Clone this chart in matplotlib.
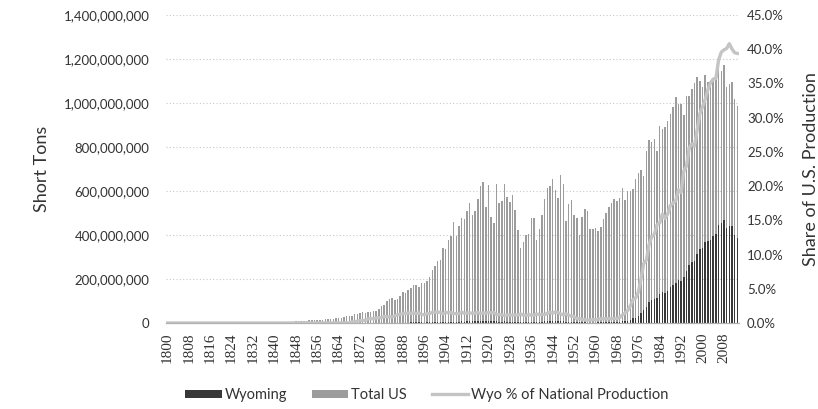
import matplotlib.pyplot as plt
import numpy as np
from matplotlib.patches import Patch
from matplotlib.lines import Line2D
from matplotlib.ticker import FuncFormatter, PercentFormatter

plt.rcParams["font.family"] = ["Lato", "DejaVu Sans"]

years = np.arange(1800, 2014)

# total US coal production, million short tons
total_us_mt = [
    0.11, 0.11, 0.12, 0.12, 0.13, 0.13, 0.14, 0.15, 0.16, 0.17,
    0.18, 0.19, 0.20, 0.21, 0.22, 0.24, 0.25, 0.27, 0.29, 0.31,
    0.33, 0.35, 0.38, 0.41, 0.44, 0.50, 0.55, 0.60, 0.70, 0.80,
    0.88, 1.0, 1.2, 1.4, 1.3, 1.7, 1.9, 2.2, 2.1, 2.4,
    2.5, 2.9, 3.2, 3.4, 4.2, 4.9, 5.7, 6.5, 6.9, 7.6,
    8.4, 9.8, 10.5, 11.8, 13.4, 14.2, 14.8, 14.5, 15.3, 17.8,
    19.1, 18.6, 19.2, 21.5, 22.7, 22.9, 27.9, 29.8, 31.5, 31.1,
    38.6, 41.1, 44.3, 49.1, 46.7, 49.7, 49.0, 54.4, 55.0, 64.3,
    76, 82, 99, 110, 114, 106, 108, 124, 142, 135,
    151, 161, 171, 174, 163, 184, 183, 191, 210, 242,
    257, 280, 288, 341, 336, 375, 396, 459, 397, 440,
    479, 474, 510, 544, 490, 508, 564, 622, 643, 529,
    628, 484, 456, 630, 546, 556, 632, 571, 550, 581,
    513, 422, 343, 366, 398, 405, 476, 475, 377, 425,
    489, 564, 615, 622, 655, 604, 567, 673, 630, 462,
    540, 557, 492, 475, 400, 480, 520, 510, 425, 428,
    430, 418, 437, 474, 502, 525, 545, 563, 555, 570,
    612, 560, 602, 598, 610, 654, 684, 697, 670, 781,
    829.7, 823.8, 838.1, 782.1, 895.9, 883.6, 890.3, 918.8, 950.3, 980.7,
    1029.1, 996.0, 997.5, 945.4, 1033.5, 1033.0, 1063.9, 1089.9, 1117.5, 1100.4,
    1073.6, 1127.7, 1094.3, 1071.8, 1112.1, 1131.5, 1162.7, 1146.6, 1171.8, 1074.9,
    1084.4, 1095.6, 1016.5, 984.8,
]

# Wyoming production, million short tons
wyoming_mt = [0.0] * 68 + [
    0.006, 0.05,
    0.05, 0.11, 0.15, 0.18, 0.18, 0.3, 0.3, 0.35, 0.4, 0.5,
    0.59, 0.78, 0.92, 1.0, 1.0, 1.1, 1.3, 1.6, 1.9, 1.9,
    2.2, 2.3, 2.5, 2.4, 2.4, 2.3, 2.2, 2.6, 2.9, 3.8,
    4.0, 4.5, 4.4, 4.6, 5.2, 5.6, 6.1, 6.3, 5.5, 6.1,
    7.5, 6.7, 7.4, 7.9, 7.0, 7.3, 8.6, 8.6, 9.4, 7.6,
    9.6, 7.2, 7.0, 7.8, 6.7, 6.6, 6.8, 6.7, 6.5, 6.7,
    6.1, 5.0, 4.5, 4.2, 4.5, 4.9, 5.5, 5.4, 5.0, 5.2,
    6.1, 6.9, 8.7, 9.7, 9.5, 9.8, 8.6, 8.9, 7.6, 6.2,
    6.1, 5.6, 4.6, 3.0, 2.5, 2.7, 2.6, 2.1, 1.9, 2.1,
    2.0, 2.4, 2.7, 3.0, 3.1, 3.3, 3.6, 3.6, 3.7, 4.6,
    7.2, 8.0, 10.9, 14.9, 20.7, 23.8, 30.8, 44.5, 58.3, 71.8,
    94.9, 103.6, 108.9, 112.3, 131.0, 140.7, 136.0, 146.4, 163.6, 171.7,
    184.0, 193.9, 190.2, 209.9, 236.9, 263.8, 278.4, 281.9, 315.0, 336.5,
    338.9, 368.7, 373.2, 376.3, 396.5, 404.3, 446.7, 453.6, 467.6, 431.1,
    442.5, 438.7, 401.4, 387.9,
]

total_us = np.array(total_us_mt) * 1e6
wyoming = np.array(wyoming_mt) * 1e6
wyo_share = wyoming / total_us

year_ticks = list(range(1800, 2009, 8))

text_col = "#333333"
total_col = "#9c9c9c"
wyo_col = "#383838"
line_col = "#c4c4c4"

fig = plt.figure(figsize=(8.18, 4.09), dpi=100)
ax = fig.add_axes([0.203, 0.2103, 0.700, 0.753])
ax2 = ax.twinx()

ax.bar(years, total_us, width=0.55, color=total_col, linewidth=0)
ax.bar(years, wyoming, width=0.55, color=wyo_col, linewidth=0)
ax2.plot(years, wyo_share, color=line_col, linewidth=2.4)

ax.set_xlim(1799.5, 2013.5)
ax.set_ylim(0, 1.4e9)
ax.set_yticks(np.arange(0, 1.41e9, 2e8))
ax.yaxis.set_major_formatter(FuncFormatter(lambda v, p: f"{v:,.0f}"))
ax.grid(axis="y", color="#c8c8c8", linestyle=(0, (1, 2)), linewidth=0.8)
ax.set_axisbelow(True)
ax.set_xticks(year_ticks)
ax.set_xticklabels([str(y) for y in year_ticks], rotation=90,
                   family="Liberation Serif", fontsize=11, color=text_col)
ax.tick_params(axis="x", length=0, pad=7)
ax.tick_params(axis="y", length=0, labelsize=9.5, labelcolor=text_col, pad=12)
ax.set_ylabel("Short Tons", fontsize=13, color=text_col, labelpad=10)

ax2.set_ylim(0, 0.45)
ax2.set_yticks(np.arange(0, 0.451, 0.05))
ax2.yaxis.set_major_formatter(PercentFormatter(1.0, decimals=1))
ax2.tick_params(axis="y", length=0, labelsize=9.5, labelcolor=text_col, pad=6)
ax2.set_ylabel("Share of U.S. Production", fontsize=13, color=text_col, labelpad=14)

for a in (ax, ax2):
    for side in ("left", "right", "top"):
        a.spines[side].set_visible(False)
    a.spines["bottom"].set_color("#b0b0b0")

handles = [
    Patch(facecolor=wyo_col, edgecolor="none", label="Wyoming"),
    Patch(facecolor=total_col, edgecolor="none", label="Total US"),
    Line2D([], [], color=line_col, linewidth=2.4, label="Wyo % of National Production"),
]
fig.legend(handles=handles, loc="center", bbox_to_anchor=(0.522, 0.034), ncol=3,
           frameon=False, fontsize=10.5, handlelength=2.5, handleheight=0.5,
           handletextpad=0.2, columnspacing=1.7, labelcolor=text_col)

fig.savefig("out.png", dpi=100)
